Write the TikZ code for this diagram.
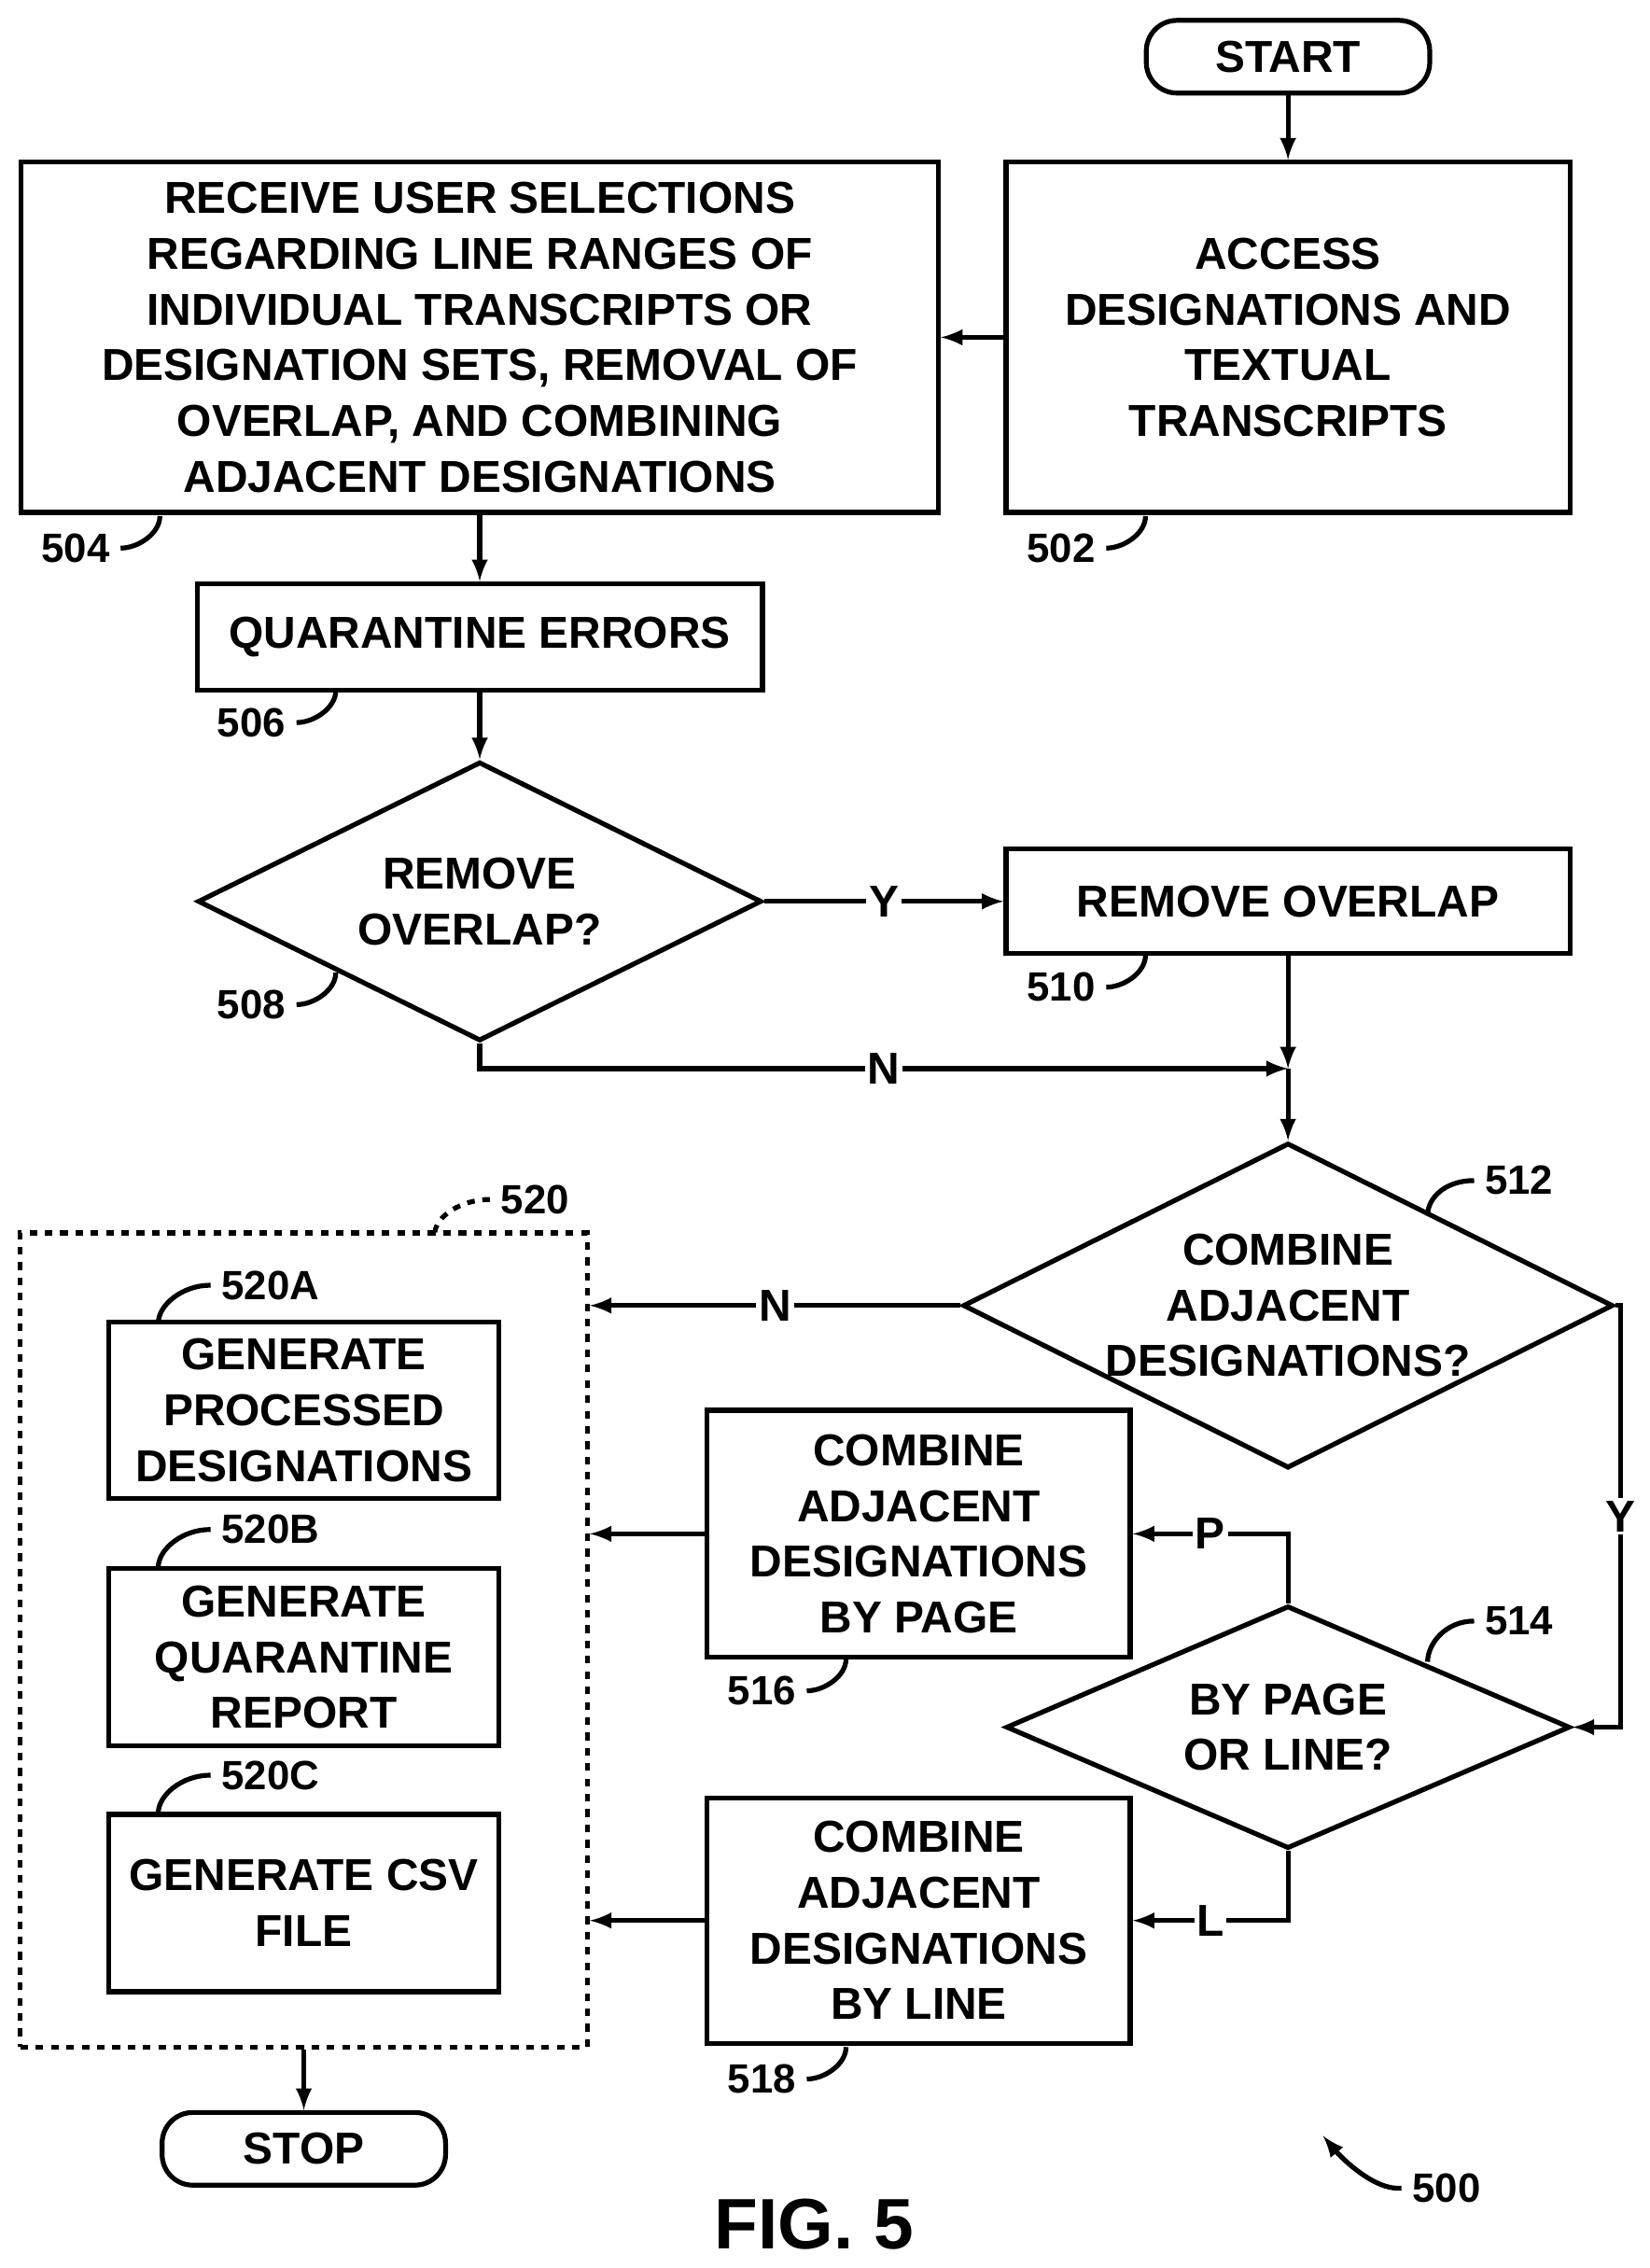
\documentclass[tikz,border=0pt]{standalone}
\usepackage{fontspec}
\setmainfont{Liberation Sans}
\usetikzlibrary{shapes.geometric, arrows}
\tikzstyle{startstop} = [rectangle, rounded corners=12pt, minimum width=3.9cm, minimum height=1cm, text centered, draw=black]
\tikzstyle{process} = [rectangle, text centered, draw=black, align=center, inner sep=0pt]
\tikzstyle{decision} = [diamond, draw=black, align=center, aspect=2, inner sep=0pt]
\tikzstyle{arrow} = [->,>=latex]
\tikzstyle{ref} = [font=\fontsize{16}{16}\selectfont\bfseries]
\newcommand{\reflabel}[4]{\node[ref] (#1) at (#2) {#3}; \draw (#1.east) .. controls +(12,0) and +(0,12) .. +#4;}
\begin{document}
\begin{tikzpicture}[x=0.02cm, y=-0.02cm, line width=1.9pt, font=\fontsize{17.5}{21.8}\selectfont\bfseries]
\useasboundingbox (0,0) rectangle (1135,1560);

\node (start) [startstop] at (886,39) {START};
\node (acc) [process, minimum width=7.76cm, minimum height=4.82cm] at (886,232) {ACCESS\\DESIGNATIONS AND\\TEXTUAL\\TRANSCRIPTS};
\node (recv) [process, minimum width=12.62cm, minimum height=4.82cm] at (330,232) {RECEIVE USER SELECTIONS\\REGARDING LINE RANGES OF\\INDIVIDUAL TRANSCRIPTS OR\\DESIGNATION SETS, REMOVAL OF\\OVERLAP, AND COMBINING\\ADJACENT DESIGNATIONS};
\node (quar) [process, minimum width=7.78cm, minimum height=1.46cm] at (330,438) {QUARANTINE ERRORS};
\node (dec1) [decision, minimum width=7.76cm, minimum height=3.84cm] at (330,620) {REMOVE\\OVERLAP?};
\node (rem) [process, minimum width=7.76cm, minimum height=1.44cm] at (886,620) {REMOVE OVERLAP};
\coordinate (merge) at (886,735);
\node (dec2) [decision, minimum width=7.76cm, minimum height=4.32cm] at (886,898) {COMBINE\\ADJACENT\\DESIGNATIONS?};
\node (dec3) [decision, minimum width=7.76cm, minimum height=3.34cm] at (886,1188) {BY PAGE\\OR LINE?};
\node (page) [process, minimum width=5.82cm, minimum height=3.4cm] at (632,1055) {COMBINE\\ADJACENT\\DESIGNATIONS\\BY PAGE};
\node (line) [process, minimum width=5.82cm, minimum height=3.38cm] at (632,1321) {COMBINE\\ADJACENT\\DESIGNATIONS\\BY LINE};
\node (grp) [draw, dashed, minimum width=7.8cm, minimum height=11.2cm] at (209,1128) {};
\node (gena) [process, minimum width=5.36cm, minimum height=2.42cm] at (209,970) {GENERATE\\PROCESSED\\DESIGNATIONS};
\node (genb) [process, minimum width=5.36cm, minimum height=2.44cm] at (209,1140) {GENERATE\\QUARANTINE\\REPORT};
\node (genc) [process, minimum width=5.36cm, minimum height=2.44cm] at (209,1309) {GENERATE CSV\\FILE};
\node (stop) [startstop] at (209,1478) {STOP};
\node (fig) [font=\fontsize{28}{28}\selectfont\bfseries] at (560,1530) {FIG. 5};

\draw [arrow] (start) -- (acc);
\draw [arrow] (acc) -- (recv);
\draw [arrow] (recv) -- (quar);
\draw [arrow] (quar) -- (dec1);
\draw [arrow] (dec1) -- node[fill=white, inner sep=1pt] {Y} (rem);
\draw [arrow] (rem) -- (merge);
\draw [arrow] (dec1.south) |- node[fill=white, inner sep=1pt, pos=0.75] {N} (merge);
\draw [arrow] (merge) -- (dec2);
\draw [arrow] (dec2) -- node[fill=white, inner sep=1pt] {N} (grp.east |- dec2);
\draw [arrow] (dec2.east) -- (1115,898) -- node[fill=white, inner sep=1pt] {Y} (1115,1188) -- (dec3.east);
\draw [arrow] (dec3.north) |- node[fill=white, inner sep=1pt, pos=0.75] {P} (page.east);
\draw [arrow] (dec3.south) |- node[fill=white, inner sep=1pt, pos=0.75] {L} (line.east);
\draw [arrow] (page) -- (grp.east |- page);
\draw [arrow] (line) -- (grp.east |- line);
\draw [arrow] (grp) -- (stop);

% reference numerals
\reflabel{r504}{52,377}{504}{(27,-22)}
\reflabel{r502}{730,377}{502}{(27,-22)}
\reflabel{r506}{173,497}{506}{(27,-22)}
\reflabel{r508}{173,691}{508}{(27,-22)}
\reflabel{r510}{730,679}{510}{(27,-22)}
\reflabel{r516}{524,1163}{516}{(27,-22)}
\reflabel{r518}{524,1430}{518}{(27,-22)}
\node[ref] (r512) at (1045,812) {512};
\draw (r512.west) .. controls +(-20,0) and +(0,-12) .. +(-32,24);
\node[ref] (r514) at (1045,1115) {514};
\draw (r514.west) .. controls +(-20,0) and +(0,-12) .. +(-32,28);
\node[ref] (r520) at (368,825) {520};
\draw [dashed] (r520.west) .. controls +(-20,0) and +(0,-12) .. +(-38,24);
\node[ref] (r520a) at (186,884) {520A};
\draw (r520a.west) .. controls +(-20,0) and +(0,-12) .. +(-36,26);
\node[ref] (r520b) at (186,1052) {520B};
\draw (r520b.west) .. controls +(-20,0) and +(0,-12) .. +(-36,26);
\node[ref] (r520c) at (186,1221) {520C};
\draw (r520c.west) .. controls +(-20,0) and +(0,-12) .. +(-36,26);
\node[ref] (r500) at (995,1505) {500};
\draw [arrow] (r500.west) .. controls +(-20,2) and +(10,12) .. +(-54,-36);
\end{tikzpicture}
\end{document}
